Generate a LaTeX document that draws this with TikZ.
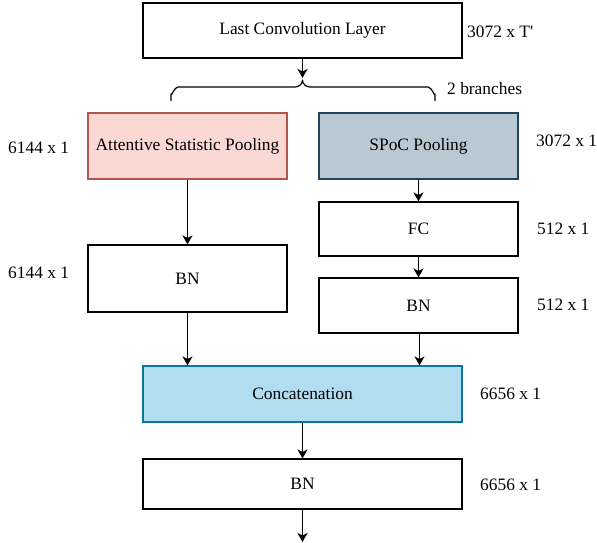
\documentclass[tikz,border=0pt]{standalone}
\usepackage{fontspec}
\setmainfont{Liberation Serif}
\usetikzlibrary{arrows.meta}

\definecolor{asfill}{HTML}{FAD9D5}
\definecolor{asline}{HTML}{B85450}
\definecolor{spfill}{HTML}{BAC8D3}
\definecolor{spline}{HTML}{23445D}
\definecolor{ccfill}{HTML}{B1DDF0}
\definecolor{ccline}{HTML}{10739E}

\tikzset{
  layer/.style={draw=black, fill=white, line width=1.2pt, inner sep=0pt,
    font=\fontsize{17.4}{20}\selectfont},
  dimlabel/.style={anchor=west, inner sep=0pt, font=\fontsize{17.4}{20}\selectfont},
  flow/.style={line width=1.2pt, -{Stealth[length=9pt,width=10pt,inset=2.5pt]}},
}

\begin{document}
\begin{tikzpicture}[x=1pt, y=-1pt]
  \useasboundingbox (0,0) rectangle (597,542);

  % layers
  \node[layer, minimum width=319pt, minimum height=55pt] (conv) at (302.5,30.5) {Last Convolution Layer};
  \node[layer, fill=asfill, draw=asline, minimum width=199pt, minimum height=66pt] (asp) at (187.5,146) {Attentive Statistic Pooling};
  \node[layer, fill=spfill, draw=spline, minimum width=199pt, minimum height=66pt] (spoc) at (418.5,146) {SPoC Pooling};
  \node[layer, minimum width=199pt, minimum height=67pt] (bnl) at (187.5,278.5) {BN};
  \node[layer, minimum width=199pt, minimum height=54pt] (fc) at (418.5,229) {FC};
  \node[layer, minimum width=199pt, minimum height=55pt] (bnr) at (418.5,305.5) {BN};
  \node[layer, fill=ccfill, draw=ccline, minimum width=319pt, minimum height=56pt] (cat) at (302.5,394) {Concatenation};
  \node[layer, minimum width=319pt, minimum height=50pt] (bnout) at (302.5,484) {BN};

  % dimension labels
  \node[dimlabel] (dconv) at (467,32) {3072 x T\textquotesingle};
  \node[dimlabel] (dbr) at (447,89) {2 branches};
  \node[dimlabel] (dasp) at (8,148) {6144 x 1};
  \node[dimlabel] (dspoc) at (536,141) {3072 x 1};
  \node[dimlabel] (dbnl) at (8,273) {6144 x 1};
  \node[dimlabel] (dfc) at (537,229) {512 x 1};
  \node[dimlabel] (dbnr) at (537,305) {512 x 1};
  \node[dimlabel] (dcat) at (480,394) {6656 x 1};
  \node[dimlabel] (dout) at (480,485) {6656 x 1};

  % brace splitting into two branches
  \coordinate (cusp) at (302.5,80);
  \draw[line width=1.2pt, line join=round]
    (171,101) -- (171,94) to[out=-90,in=180] (178,87) -- (295,87)
    to[out=0,in=-90] (cusp) to[out=-90,in=180] (310,87) -- (428,87)
    to[out=0,in=-90] (435,94) -- (435,101);

  % connectors
  \coordinate (out) at (302.5,542);
  \draw[flow] (conv.south) -- (302.5,78);
  \draw[flow] (asp.south) -- (bnl.north);
  \draw[flow] (spoc.south) -- (fc.north);
  \draw[flow] (fc.south) -- (bnr.north);
  \draw[flow] (bnl.south) -- (bnl.south |- cat.north);
  \draw[flow] ([xshift=1pt]bnr.south) -- ([xshift=1pt]bnr.south |- cat.north);
  \draw[flow] (cat.south) -- (bnout.north);
  \draw[flow] (bnout.south) -- (out);
\end{tikzpicture}
\end{document}
